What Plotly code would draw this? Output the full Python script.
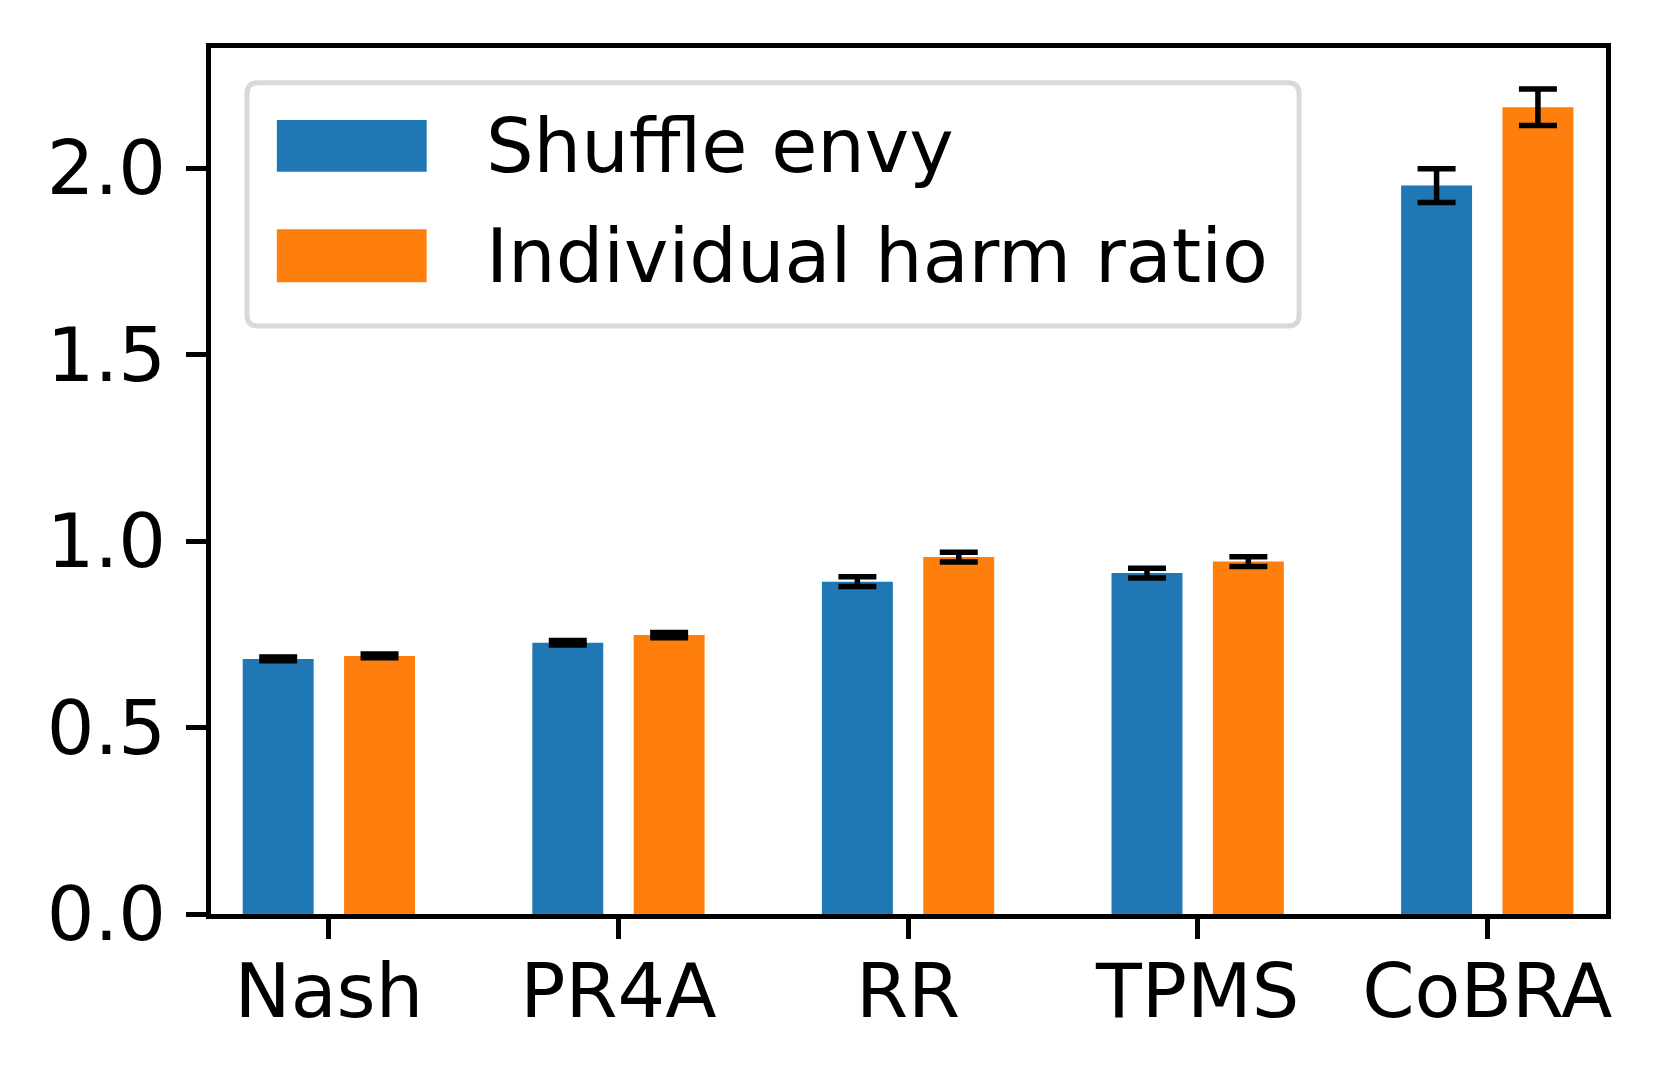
import plotly.graph_objects as go

categories = ["Nash", "PR4A", "RR", "TPMS", "CoBRA"]
shuffle_envy = [0.684, 0.727, 0.891, 0.914, 1.953]
shuffle_envy_err = [0.005, 0.006, 0.013, 0.013, 0.045]
harm_ratio = [0.692, 0.748, 0.957, 0.945, 2.163]
harm_ratio_err = [0.005, 0.007, 0.013, 0.013, 0.049]
series_names = ["Shuffle envy", "Individual harm ratio"]
colors = ["#1f77b4", "#ff7f0e"]
ytick_vals = [0.0, 0.5, 1.0, 1.5, 2.0]
ytick_text = ["0.0", "0.5", "1.0", "1.5", "2.0"]

FONT = "DejaVu Sans"
fig = go.Figure()
for name, vals, errs, col in [(series_names[0], shuffle_envy, shuffle_envy_err, colors[0]),
                              (series_names[1], harm_ratio, harm_ratio_err, colors[1])]:
    fig.add_trace(go.Bar(
        x=categories, y=vals, name=name, marker=dict(color=col, line=dict(width=0)),
        error_y=dict(type="data", array=errs, visible=True, color="black",
                     thickness=5.5, width=19),
        showlegend=False,
    ))

# custom legend (matplotlib style, rounded frame)
shapes = []
annotations = []
x0, x1, y0, y1 = 0.0258, 0.780, 0.679, 0.960
rx, ry = 0.008, 0.013
path = (f"M{x0+rx},{y0} L{x1-rx},{y0} Q{x1},{y0} {x1},{y0+ry} "
        f"L{x1},{y1-ry} Q{x1},{y1} {x1-rx},{y1} "
        f"L{x0+rx},{y1} Q{x0},{y1} {x0},{y1-ry} "
        f"L{x0},{y0+ry} Q{x0},{y0} {x0+rx},{y0} Z")
shapes.append(dict(type="path", xref="paper", yref="paper", path=path,
                   line=dict(color="#d9d9d9", width=5), fillcolor="rgba(255,255,255,0.8)", layer="above"))
patch_y = [(0.857, 0.917), (0.7296, 0.7906)]
text_y = [0.887, 0.760]
for i in range(2):
    shapes.append(dict(type="rect", xref="paper", yref="paper", x0=0.0472, x1=0.1546,
                       y0=patch_y[i][0], y1=patch_y[i][1], line=dict(width=0),
                       fillcolor=colors[i], layer="above"))
    annotations.append(dict(xref="paper", yref="paper", x=0.196, y=text_y[i], text=series_names[i],
                            showarrow=False, xanchor="left", yanchor="middle",
                            font=dict(family=FONT, size=75, color="black")))

fig.update_layout(
    width=1658, height=1076,
    margin=dict(l=203, r=60, t=40, b=170),
    paper_bgcolor="white", plot_bgcolor="white",
    barmode="group", bargap=0.3, bargroupgap=0.3,
    font=dict(family=FONT, size=75, color="black"),
    shapes=shapes, annotations=annotations,
)
fig.update_xaxes(
    type="category", range=[-0.407, 4.41],
    showline=True, linecolor="black", linewidth=5, mirror=True,
    ticks="outside", ticklen=20, tickwidth=5, tickcolor="black",
    showgrid=False, zeroline=False, ticklabelstandoff=-12,
    tickfont=dict(family=FONT, size=75, color="black"),
)
fig.update_yaxes(
    range=[0, 2.322], tickvals=ytick_vals, ticktext=ytick_text,
    showline=True, linecolor="black", linewidth=5, mirror=True,
    ticks="outside", ticklen=20, tickwidth=5, tickcolor="black",
    showgrid=False, zeroline=False, ticklabelstandoff=5,
    tickfont=dict(family=FONT, size=75, color="black"),
)
fig.write_html("out.html")
